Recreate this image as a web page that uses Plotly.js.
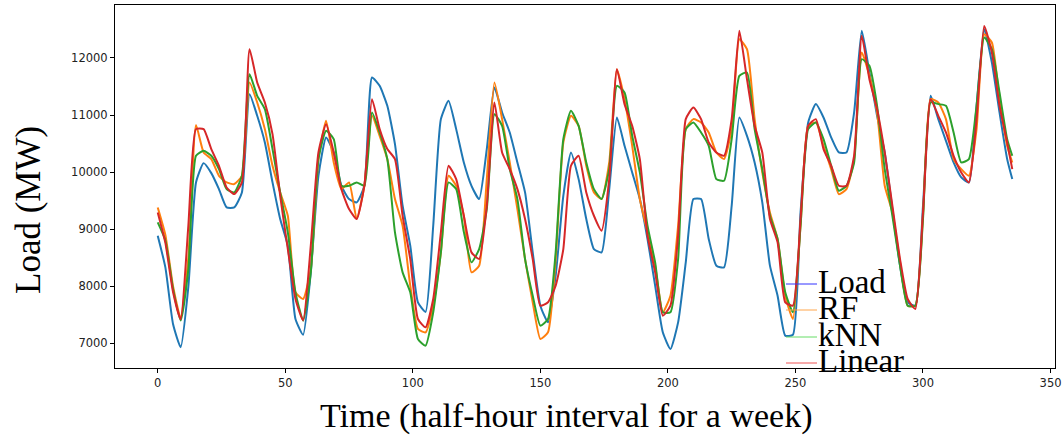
<!DOCTYPE html>
<html>
<head>
<meta charset="utf-8">
<script src="https://cdn.plot.ly/plotly-3.0.1.min.js"></script>
<style>html,body{margin:0;padding:0;background:#fff;}#chart{width:1062px;height:436px;}</style>
</head>
<body>
<div id="chart"></div>
<script>
// Time index (half-hour intervals), sampled every 3 steps
const timeIdx = [0,3,6,9,12,15,18,21,24,27,30,33,36,39,42,45,
48,51,54,57,60,63,66,69,72,75,78,81,84,87,90,93,
96,99,102,105,108,111,114,117,120,123,126,129,132,135,138,141,
144,147,150,153,156,159,162,165,168,171,174,177,180,183,186,189,
192,195,198,201,204,207,210,213,216,219,222,225,228,231,234,237,
240,243,246,249,252,255,258,261,264,267,270,273,276,279,282,285,
288,291,294,297,300,303,306,309,312,315,318,321,324,327,330,333,335];

const loadMW = [8885,8330,7338,6930,7990,9819,10157,9982,9702,9381,9381,9644,11366,10986,10519,9819,
9177,8710,7426,7150,8243,9935,10607,10344,9760,9527,9469,9760,11658,11512,11161,10490,
9410,8710,7718,7550,9060,10928,11249,10753,10169,9760,9527,10403,11482,11045,10694,10169,
9644,8593,7659,7367,8184,9585,10344,9877,9177,8651,8593,9702,10957,10461,9994,9527,
8827,8009,7192,6900,7367,8418,9527,9527,8827,8360,8330,9410,10957,10636,10169,9469,
8360,7834,7134,7150,9294,10870,11191,10957,10607,10344,10344,11045,12475,11745,10986,10344,
9352,8360,7718,7659,9410,11336,10928,10548,10169,9906,9819,11162,12504,11920,11045,10228,9877];

const rfMW = [9381,8900,8000,7440,8500,10823,10344,10228,9935,9819,9790,9935,11570,11220,10753,10111,
9644,9235,7893,7776,8301,10228,10899,10169,9702,9819,9177,9760,10986,10636,10228,9527,
9060,8009,7251,7192,7659,8593,9935,9760,9235,8243,8360,9877,11570,10928,10169,9352,
8476,7718,7076,7192,8476,10519,10986,10811,10111,9644,9527,10169,11803,11278,10461,9527,
8943,8360,7543,7834,9060,10753,10928,10870,10694,10344,10228,10753,12329,12154,10928,9994,
9294,8827,7834,7426,9060,10811,10870,10461,10052,9614,9702,10228,12095,11687,11045,9760,
9294,8418,7659,7659,9235,11278,11220,10928,10228,10052,9935,10753,12416,12270,11278,10461,10169];

const knnMW = [9118,8800,7950,7400,8300,10286,10373,10286,10052,9702,9644,9935,11716,11336,11103,10403,
9644,8943,7893,7397,8243,10228,10724,10578,9760,9760,9819,9760,11045,10694,10228,8943,
8243,7893,7076,6959,7543,8593,9819,9702,8952,8418,8651,9352,11015,10811,10052,9527,
8476,7835,7309,7426,8593,10578,11074,10811,10169,9702,9527,10052,11512,11395,10636,9994,
9060,8418,7543,7543,8476,10753,10870,10694,10461,9877,9848,10578,11687,11745,10753,10052,
9235,8827,7893,7543,9060,10753,10870,10578,10111,9673,9760,10169,11979,11862,11162,10052,
9235,8360,7659,7659,9177,11220,11191,11162,10694,10169,10228,11162,12358,12154,11395,10578,10286];

const linearMW = [9293,8760,7900,7420,9060,10753,10753,10403,10111,9731,9614,9819,12154,11570,11220,10665,
9585,8651,7776,7400,8710,10344,10840,10344,9702,9352,9177,9760,11278,10753,10403,10228,
9235,8476,7426,7280,7776,8943,10111,9877,9235,8593,8476,9410,11220,10344,10052,9702,
9177,8476,7659,7718,8009,8651,10111,10286,9644,9235,8973,9877,11803,11191,10811,10228,
8885,8243,7484,7659,8885,10928,11132,10928,10519,10344,10286,10928,12475,11628,10811,10344,
9177,8768,7718,7659,9177,10811,10928,10403,10111,9760,9760,10286,12388,11628,11103,10344,
9410,8476,7776,7601,9293,11278,10986,10694,10286,9994,9819,10928,12562,12095,11162,10519,10052];

const seriesNames = ["Load","RF","kNN","Linear"];
const seriesColors = ["#1f77b4","#ff7f0e","#2ca02c","#d62728"];
const legendColors = ["#3333ff","#ffa64d","#66dd66","#ee5555"];
const seriesData = [loadMW, rfMW, knnMW, linearMW];

const xTicks = [0,50,100,150,200,250,300,350];
const yTicks = [7000,8000,9000,10000,11000,12000];
const xTitle = 'Time (half-hour interval for a week)';
const yTitle = 'Load (MW)';

const traces = seriesData.map((d,i)=>({
  x: timeIdx, y: d, type:'scatter', mode:'lines', name: seriesNames[i],
  line:{color:seriesColors[i], width:2, shape:'spline', smoothing:0.5}, showlegend:false
}));

// pixel -> paper helpers (plot area 115..1055 x 5..368)
const W=940, H=363, L=115, T=5;
const px = v => (v-L)/W, py = v => (T+H-v)/H;
const serif = 'Liberation Serif, serif';
const legY = [284, 310, 337, 363];
const shapes = [], annotations = [];
seriesNames.forEach((n,i)=>{
  shapes.push({type:'line', xref:'paper', yref:'paper', x0:px(786), x1:px(817), y0:py(legY[i]), y1:py(legY[i]),
    line:{color:legendColors[i], width:1}});
  annotations.push({xref:'paper', yref:'paper', x:px(816), y:py(legY[i]-2), xanchor:'left', yanchor:'middle',
    text:n, showarrow:false, font:{family:serif, size:33, color:'#000'}});
});
// axis titles placed as in the reference
annotations.push({xref:'paper', yref:'paper', x:px(566), y:py(416), xanchor:'center', yanchor:'middle',
  text:xTitle, showarrow:false, font:{family:serif, size:34, color:'#000'}});
annotations.push({xref:'paper', yref:'paper', x:px(28), y:py(210), xanchor:'center', yanchor:'middle',
  textangle:-90, text:yTitle, showarrow:false, font:{family:serif, size:35, color:'#000'}});

const layout = {
  width:1062, height:436,
  margin:{l:115, r:7, t:5, b:68},
  paper_bgcolor:'#fff', plot_bgcolor:'#fff',
  xaxis:{range:[-16.75,351.75], tickvals:xTicks, ticks:'outside', ticklen:4, tickcolor:'#000',
    showline:true, mirror:true, linecolor:'#000', linewidth:1, showgrid:false, zeroline:false,
    tickfont:{family:'DejaVu Sans', size:11.5, color:'#222'}, title:{text:''}},
  yaxis:{range:[6567,12928], tickvals:yTicks, tickformat:'d', ticks:'outside', ticklen:4, tickcolor:'#000',
    showline:true, mirror:true, linecolor:'#000', linewidth:1, showgrid:false, zeroline:false,
    tickfont:{family:'DejaVu Sans', size:11.5, color:'#222'}, title:{text:''}},
  shapes:shapes, annotations:annotations
};

Plotly.newPlot('chart', traces, layout, {displayModeBar:false, staticPlot:true});
</script>
</body>
</html>
